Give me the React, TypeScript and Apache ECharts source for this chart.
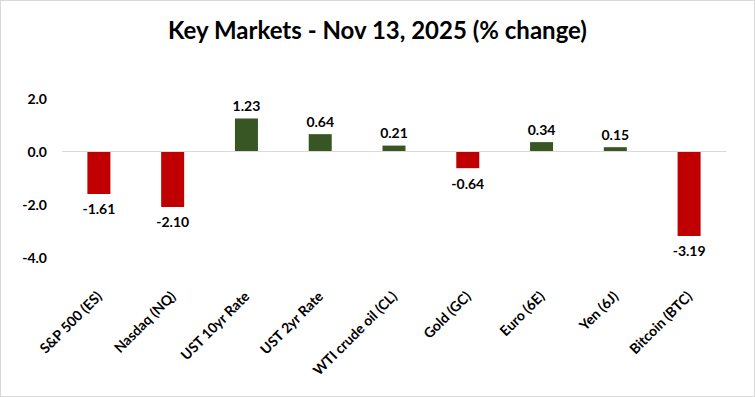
import React, { useEffect, useRef } from "react";
import * as echarts from "echarts";

const categories = [
  "S&P 500 (ES)",
  "Nasdaq (NQ)",
  "UST 10yr Rate",
  "UST 2yr Rate",
  "WTI crude oil (CL)",
  "Gold (GC)",
  "Euro (6E)",
  "Yen (6J)",
  "Bitcoin (BTC)",
];
const values = [-1.61, -2.1, 1.23, 0.64, 0.21, -0.64, 0.34, 0.15, -3.19];
const yTicks = [-4, -2, 0, 2];
const titleText = "Key Markets - Nov 13, 2025 (% change)";

const RED = "#C00000";
const GREEN = "#375623";
const FONT = "Lato, 'Open Sans', sans-serif";

export default function App() {
  const ref = useRef<HTMLDivElement>(null);
  useEffect(() => {
    document.body.style.margin = "0";
    const chart = echarts.init(ref.current!, null, { renderer: "svg" });
    chart.setOption({
      animation: false,
      backgroundColor: "#ffffff",
      title: {
        text: titleText,
        left: "center",
        top: 11,
        textStyle: { fontFamily: FONT, fontSize: 24, fontWeight: "bold", color: "#000" },
      },
      grid: { left: 61, right: 28, top: 97, bottom: 138.5, containLabel: false },
      xAxis: {
        type: "category",
        data: categories,
        axisLine: { show: false, onZero: false },
        axisTick: { show: false },
        axisLabel: {
          rotate: 45,
          interval: 0,
          margin: 36,
          fontFamily: FONT,
          fontSize: 14,
          fontWeight: "bold",
          color: "#000",
        },
      },
      yAxis: {
        type: "value",
        min: yTicks[0],
        max: yTicks[yTicks.length - 1],
        interval: 2,
        splitLine: { show: false },
        axisLine: { show: false },
        axisTick: { show: false },
        axisLabel: {
          margin: 15,
          formatter: (v: number) => v.toFixed(1),
          fontFamily: FONT,
          fontSize: 14,
          fontWeight: "bold",
          color: "#000",
        },
      },
      series: [
        {
          type: "bar",
          barWidth: 23,
          data: values.map((v) => ({
            value: v,
            itemStyle: { color: v >= 0 ? GREEN : RED },
            label: { position: v >= 0 ? "top" : "bottom", distance: v >= 0 ? 6 : 8 },
          })),
          label: {
            show: true,
            formatter: (p: any) => Number(p.value).toFixed(2),
            fontFamily: FONT,
            fontSize: 14,
            fontWeight: "bold",
            color: "#000",
          },
          markLine: {
            silent: true,
            symbol: "none",
            label: { show: false },
            lineStyle: { color: "#d9d9d9", width: 1, type: "solid" },
            data: [{ yAxis: 0 }],
          },
        },
      ],
    });
    return () => chart.dispose();
  }, []);
  return (
    <div
      style={{
        position: "absolute",
        left: 0,
        top: 0,
        width: 755,
        height: 397,
        boxSizing: "border-box",
        border: "1px solid #d9d9d9",
      }}
    >
      <div ref={ref} style={{ width: "100%", height: "100%" }} />
    </div>
  );
}
